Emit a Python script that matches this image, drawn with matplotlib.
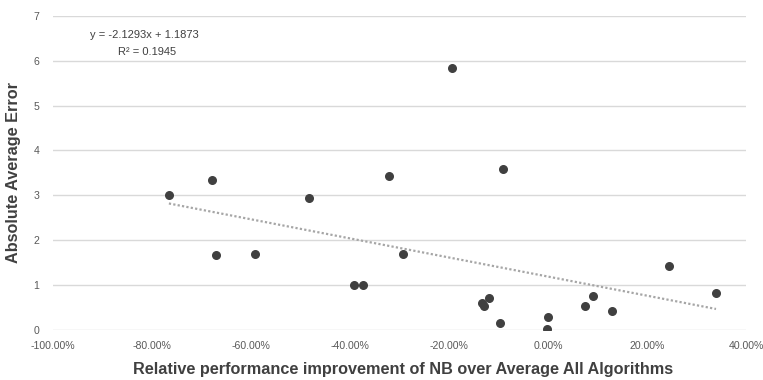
import numpy as np
import matplotlib
matplotlib.use("Agg")
import matplotlib.pyplot as plt
from matplotlib.ticker import FuncFormatter

# relative performance improvement (fraction) and absolute average error
improvement = [-0.766, -0.679, -0.671, -0.592, -0.483, -0.392, -0.374, -0.321,
               -0.293, -0.194, -0.133, -0.129, -0.119, -0.097, -0.091, 0.000,
               -0.002, 0.075, 0.091, 0.129, 0.245, 0.339]
abs_error = [3.01, 3.35, 1.67, 1.70, 2.95, 1.00, 1.00, 3.42,
             1.70, 5.85, 0.60, 0.54, 0.71, 0.15, 3.59, 0.29,
             0.02, 0.54, 0.76, 0.43, 1.43, 0.83]

# linear trendline as reported in the chart
slope = -2.1293
intercept = 1.1873
r_squared = 0.1945

x_ticks = [-1.0, -0.8, -0.6, -0.4, -0.2, 0.0, 0.2, 0.4]
y_ticks = [0, 1, 2, 3, 4, 5, 6, 7]

plt.rcParams['font.family'] = ['Liberation Sans', 'DejaVu Sans']

fig = plt.figure(figsize=(7.63, 3.80), dpi=100)
ax = fig.add_axes([0.0695, 0.132, 0.9085, 0.826])

ax.set_xlim(-1.0, 0.4)
ax.set_ylim(0, 7)
ax.set_xticks(x_ticks)
ax.set_yticks(y_ticks)
ax.xaxis.set_major_formatter(FuncFormatter(lambda v, p: "%.2f%%" % (v * 100)))

for s in ax.spines.values():
    s.set_visible(False)
ax.yaxis.grid(True, color="#d9d9d9", linewidth=1.0)
ax.set_axisbelow(True)
ax.tick_params(axis="both", length=0, labelsize=7.6, labelcolor="#595959")
ax.tick_params(axis="x", pad=8)
ax.tick_params(axis="y", pad=10)

ax.scatter(improvement, abs_error, s=30, color="#404040", zorder=3)

xs = np.array([min(improvement), max(improvement)])
ax.plot(xs, slope * xs + intercept, linestyle=(0, (1, 1)), color="#a6a6a6",
        linewidth=1.6, zorder=2)

ax.text(-0.925, 6.58, "y = %.4fx + %.4f" % (slope, intercept), fontsize=8,
        color="#404040", ha="left", va="center")
ax.text(-0.869, 6.2, "R² = %.4f" % r_squared, fontsize=8,
        color="#404040", ha="left", va="center")

fig.text(0.528, 0.028, "Relative performance improvement of NB over Average All Algorithms",
         ha="center", va="center", fontsize=11.7, fontweight="bold", color="#404040")
fig.text(0.018, 0.545, "Absolute Average Error", rotation=90,
         ha="center", va="center", fontsize=11.7, fontweight="bold", color="#404040")

fig.savefig("out.png", dpi=100)
